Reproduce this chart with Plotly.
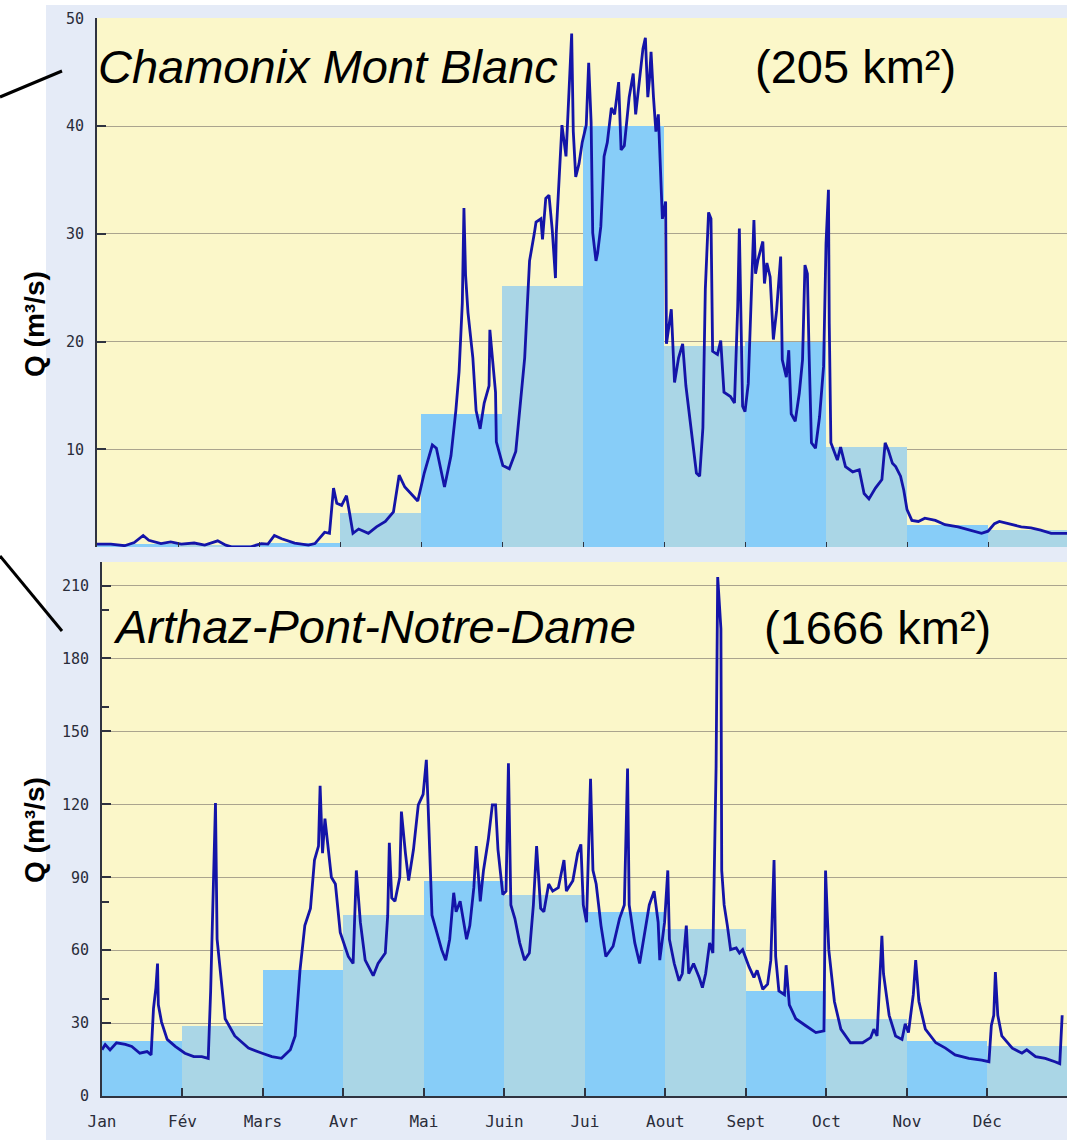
import plotly.graph_objects as go

# ---------------- data ----------------
months = ["Jan", "Fév", "Mars", "Avr", "Mai", "Juin", "Jui", "Aout", "Sept", "Oct", "Nov", "Déc"]

# monthly mean discharge (m3/s)
cham_monthly = [1.2, 1.1, 1.3, 4.1, 13.3, 25.2, 40.0, 19.6, 20.0, 10.2, 3.0, 2.5]
arthaz_monthly = [22.5, 29.0, 51.7, 74.4, 88.6, 82.5, 75.8, 68.7, 43.2, 31.8, 22.6, 20.4]

# daily discharge: (time in months from 1 Jan, Q m3/s)
cham_daily = [
    (0.00, 1.2), (0.17, 1.2), (0.34, 1.05), (0.46, 1.35), (0.57, 2.0), (0.64, 1.55), (0.79, 1.25),
    (0.91, 1.4), (1.04, 1.2), (1.20, 1.3), (1.33, 1.1), (1.49, 1.5), (1.59, 1.1), (1.66, 0.95),
    (1.90, 0.95), (2.03, 1.25), (2.11, 1.2), (2.19, 2.0), (2.28, 1.7), (2.44, 1.3), (2.61, 1.1),
    (2.69, 1.25), (2.81, 2.3), (2.87, 2.2), (2.92, 6.4), (2.96, 5.0), (3.02, 4.8), (3.08, 5.7),
    (3.12, 4.0), (3.16, 2.2), (3.23, 2.6), (3.35, 2.2), (3.45, 2.8), (3.56, 3.3), (3.66, 4.2),
    (3.73, 7.6), (3.80, 6.5), (3.86, 6.0), (3.96, 5.2), (4.04, 7.8), (4.14, 10.4), (4.19, 10.1),
    (4.29, 6.5), (4.37, 9.4), (4.43, 13.6), (4.47, 17.2), (4.51, 23.6), (4.53, 32.4), (4.55, 26.2),
    (4.58, 22.7), (4.64, 18.5), (4.68, 13.6), (4.73, 11.9), (4.78, 14.3), (4.84, 15.9), (4.85, 21.1),
    (4.88, 18.5), (4.92, 15.3), (4.93, 10.7), (5.01, 8.5), (5.09, 8.2), (5.17, 9.8), (5.28, 18.5),
    (5.34, 27.5), (5.40, 30.1), (5.42, 31.1), (5.48, 31.4), (5.50, 29.5), (5.54, 33.3), (5.58, 33.6),
    (5.62, 30.4), (5.66, 25.9), (5.67, 30.1), (5.70, 34.0), (5.74, 40.1), (5.79, 37.2), (5.82, 42.7),
    (5.86, 48.6), (5.88, 39.5), (5.91, 35.3), (5.95, 36.5), (5.99, 38.5), (6.04, 40.1), (6.07, 45.9),
    (6.10, 40.4), (6.12, 30.1), (6.16, 27.5), (6.18, 28.2), (6.22, 30.7), (6.26, 37.2), (6.30, 38.5),
    (6.35, 41.7), (6.39, 41.1), (6.44, 44.1), (6.47, 37.8), (6.51, 38.2), (6.57, 42.7), (6.62, 44.9),
    (6.65, 41.1), (6.71, 44.9), (6.74, 47.2), (6.77, 48.2), (6.80, 42.7), (6.82, 44.3), (6.84, 46.9),
    (6.87, 42.7), (6.90, 39.5), (6.93, 41.1), (6.95, 37.2), (6.98, 31.4), (7.02, 33.0), (7.03, 19.8),
    (7.09, 23.0), (7.13, 16.2), (7.18, 18.5), (7.23, 19.8), (7.27, 15.9), (7.33, 12.0), (7.40, 7.8),
    (7.44, 7.5), (7.48, 12.0), (7.51, 24.9), (7.55, 32.0), (7.58, 31.4), (7.60, 19.1), (7.66, 18.8),
    (7.70, 20.1), (7.74, 15.3), (7.82, 14.9), (7.87, 14.3), (7.89, 18.6), (7.91, 23.3), (7.93, 30.5),
    (7.95, 21.7), (7.97, 14.0), (8.00, 13.5), (8.04, 16.1), (8.08, 24.8), (8.11, 31.3), (8.13, 26.3),
    (8.16, 27.6), (8.22, 29.3), (8.24, 25.4), (8.27, 27.3), (8.31, 26.0), (8.35, 20.2), (8.39, 22.9),
    (8.44, 27.9), (8.46, 18.3), (8.51, 16.7), (8.54, 19.2), (8.57, 13.3), (8.62, 12.6), (8.67, 15.2),
    (8.71, 18.3), (8.74, 27.1), (8.77, 26.3), (8.79, 19.2), (8.82, 10.6), (8.87, 10.1), (8.92, 13.0),
    (8.97, 17.7), (9.00, 29.1), (9.03, 34.1), (9.04, 21.7), (9.06, 10.6), (9.14, 9.0), (9.18, 10.2),
    (9.24, 8.4), (9.33, 7.9), (9.41, 8.1), (9.47, 5.9), (9.53, 5.4), (9.61, 6.4), (9.69, 7.2),
    (9.73, 10.6), (9.77, 9.9), (9.82, 8.7), (9.86, 8.4), (9.92, 7.5), (9.96, 6.2), (10.00, 4.4),
    (10.06, 3.4), (10.14, 3.3), (10.22, 3.6), (10.35, 3.4), (10.47, 3.0), (10.63, 2.8), (10.76, 2.5),
    (10.92, 2.2), (11.00, 2.4), (11.08, 3.1), (11.14, 3.3), (11.29, 3.0), (11.41, 2.8), (11.53, 2.7),
    (11.65, 2.5), (11.78, 2.2), (11.92, 2.2), (11.99, 2.2),
]

arthaz_daily = [
    (0.00, 19.0), (0.04, 21.2), (0.10, 19.0), (0.18, 21.9), (0.29, 21.2), (0.37, 20.4), (0.47, 17.6),
    (0.56, 18.3), (0.61, 16.9), (0.64, 36.1), (0.67, 44.6), (0.69, 54.5), (0.70, 37.5), (0.74, 30.4),
    (0.81, 23.3), (0.91, 20.4), (1.03, 17.6), (1.14, 16.2), (1.24, 16.2), (1.32, 15.5), (1.35, 43.2),
    (1.37, 70.1), (1.39, 95.7), (1.41, 120.5), (1.43, 64.5), (1.47, 50.3), (1.53, 31.8), (1.65, 24.7),
    (1.82, 19.7), (1.99, 17.6), (2.11, 16.2), (2.23, 15.5), (2.34, 19.0), (2.40, 24.7), (2.46, 51.7),
    (2.52, 70.1), (2.59, 77.2), (2.64, 97.1), (2.69, 102.8), (2.71, 127.6), (2.74, 99.9), (2.77, 114.1),
    (2.80, 104.2), (2.85, 90.0), (2.90, 87.2), (2.96, 67.3), (3.06, 57.4), (3.12, 54.5), (3.16, 92.8),
    (3.21, 71.5), (3.27, 55.9), (3.37, 49.5), (3.43, 54.5), (3.52, 58.8), (3.55, 74.4), (3.57, 104.2),
    (3.60, 81.5), (3.64, 80.1), (3.70, 90.0), (3.72, 117.0), (3.77, 99.9), (3.81, 88.6), (3.87, 101.4),
    (3.93, 119.8), (3.99, 124.1), (4.03, 138.3), (4.05, 121.2), (4.10, 74.4), (4.16, 67.3), (4.22, 60.2),
    (4.27, 55.9), (4.32, 64.5), (4.37, 83.6), (4.40, 75.8), (4.45, 80.1), (4.53, 64.5), (4.57, 70.1),
    (4.62, 85.7), (4.65, 102.8), (4.70, 80.1), (4.74, 92.8), (4.80, 105.6), (4.85, 119.8), (4.89, 119.8),
    (4.92, 101.4), (4.98, 82.9), (5.02, 84.3), (5.05, 136.9), (5.08, 78.6), (5.13, 73.0), (5.19, 63.0),
    (5.25, 55.9), (5.31, 58.8), (5.36, 78.6), (5.40, 102.8), (5.45, 77.2), (5.49, 75.8), (5.55, 87.2),
    (5.60, 84.3), (5.67, 85.7), (5.74, 97.1), (5.77, 84.3), (5.85, 88.6), (5.91, 99.9), (5.95, 103.5),
    (5.98, 78.6), (6.02, 71.5), (6.05, 109.9), (6.07, 130.5), (6.10, 92.8), (6.14, 87.2), (6.20, 70.1),
    (6.26, 57.4), (6.35, 61.6), (6.43, 73.0), (6.49, 78.6), (6.51, 105.6), (6.53, 134.7), (6.55, 78.6),
    (6.62, 63.0), (6.68, 54.5), (6.74, 67.3), (6.80, 78.6), (6.86, 84.3), (6.91, 71.5), (6.93, 55.9),
    (6.99, 71.5), (7.03, 92.8), (7.05, 64.5), (7.11, 54.5), (7.17, 47.4), (7.21, 50.3), (7.26, 70.1),
    (7.29, 50.3), (7.35, 54.5), (7.42, 48.8), (7.46, 44.6), (7.50, 50.3), (7.55, 63.0), (7.59, 58.8),
    (7.63, 135.4), (7.65, 213.5), (7.67, 202.2), (7.69, 192.2), (7.70, 92.8), (7.73, 78.6), (7.77, 70.1),
    (7.81, 60.2), (7.88, 60.9), (7.92, 58.8), (7.96, 60.2), (8.04, 53.1), (8.10, 48.8), (8.14, 51.7),
    (8.21, 43.9), (8.27, 46.0), (8.31, 55.9), (8.33, 80.8), (8.35, 97.1), (8.37, 57.4), (8.41, 43.2),
    (8.48, 41.7), (8.50, 53.8), (8.54, 37.5), (8.62, 31.8), (8.74, 29.0), (8.87, 26.1), (8.97, 26.8),
    (8.99, 92.8), (9.01, 75.8), (9.03, 60.2), (9.10, 38.9), (9.18, 27.5), (9.30, 21.9), (9.45, 21.9),
    (9.55, 24.0), (9.59, 27.5), (9.63, 24.7), (9.66, 44.6), (9.69, 65.9), (9.71, 50.3), (9.78, 33.2),
    (9.86, 24.7), (9.94, 23.3), (9.98, 29.7), (10.02, 26.1), (10.08, 41.7), (10.11, 55.9), (10.15, 38.9),
    (10.23, 27.5), (10.36, 21.9), (10.48, 19.7), (10.60, 16.9), (10.77, 15.5), (10.93, 14.8), (11.02, 14.1),
    (11.05, 29.0), (11.08, 33.2), (11.10, 51.0), (11.13, 33.2), (11.18, 24.7), (11.31, 19.7), (11.43, 17.6),
    (11.49, 19.0), (11.60, 16.2), (11.72, 15.5), (11.84, 14.1), (11.90, 13.3), (11.93, 33.2),
]

cham_yticks = [10, 20, 30, 40, 50]
arthaz_yticks = [0, 30, 60, 90, 120, 150, 180, 210]
arthaz_minor_ticks = [40, 80, 120, 160, 200]

# ---------------- style ----------------
W, H = 1067, 1140
BRIGHT = "#87cdf8"
LIGHT = "#aad6e6"
LINE = "#1414a8"
YELLOW = "#fbf7c9"
PANEL = "#e5ebf7"
GRID = "#aaa48e"
AXIS = "#2f3340"
TICKFONT = dict(family="DejaVu Sans Mono, monospace", size=15, color="#2a2d3a")

bar_colors = [BRIGHT if i % 2 == 0 else LIGHT for i in range(12)]
month_centers = [i + 0.5 for i in range(12)]

def px_x(p):
    return p / W

def px_y(p):
    return 1 - p / H

fig = go.Figure()

fig.add_trace(go.Bar(x=month_centers, y=cham_monthly, width=1, marker=dict(color=bar_colors, line=dict(width=0)),
                     xaxis="x", yaxis="y", hoverinfo="skip", showlegend=False))
ct, cq = zip(*cham_daily)
fig.add_trace(go.Scatter(x=ct, y=cq, mode="lines", line=dict(color=LINE, width=2.8),
                         xaxis="x", yaxis="y", showlegend=False))

fig.add_trace(go.Bar(x=month_centers, y=arthaz_monthly, width=1, marker=dict(color=bar_colors, line=dict(width=0)),
                     xaxis="x2", yaxis="y2", hoverinfo="skip", showlegend=False))
at, aq = zip(*arthaz_daily)
fig.add_trace(go.Scatter(x=at, y=aq, mode="lines", line=dict(color=LINE, width=2.8),
                         xaxis="x2", yaxis="y2", showlegend=False))
# invisible trace carrying the extra tick marks of the lower panel
fig.add_trace(go.Scatter(x=[0], y=[0], mode="markers", marker=dict(opacity=0), xaxis="x2", yaxis="y3",
                         hoverinfo="skip", showlegend=False))

top_dom = [px_y(547), px_y(18)]
bot_dom = [px_y(1096), px_y(562)]

fig.update_layout(
    width=W, height=H,
    autosize=False,
    margin=dict(l=0, r=0, t=0, b=0, pad=0, autoexpand=False),
    paper_bgcolor="white",
    plot_bgcolor="rgba(0,0,0,0)",
    barmode="overlay",
    bargap=0,
    xaxis=dict(domain=[px_x(97), 1], range=[0, 11.975], tickvals=list(range(12)), showticklabels=False,
               ticks="inside", ticklen=5, tickcolor=AXIS, showgrid=False, zeroline=False, showline=False,
               anchor="y", automargin=False),
    yaxis=dict(domain=top_dom, range=[0.93, 50.05], tickvals=cham_yticks, ticks="inside", ticklen=9,
               tickcolor=AXIS, tickwidth=1.5, tickfont=TICKFONT, ticklabelstandoff=8,
               showgrid=True, gridcolor=GRID, gridwidth=1, zeroline=False,
               showline=True, linecolor=AXIS, linewidth=2, anchor="x", automargin=False),
    xaxis2=dict(domain=[px_x(102), 1], range=[0, 11.99], tickvals=list(range(12)), ticktext=months,
                ticks="inside", ticklen=8, tickwidth=1.5, tickcolor=AXIS, tickfont=dict(TICKFONT, size=16),
                ticklabelstandoff=10, showgrid=False, zeroline=False, showline=True, linecolor=AXIS,
                linewidth=2, anchor="y2", automargin=False),
    yaxis2=dict(domain=bot_dom, range=[0, 219.7], tickvals=arthaz_yticks, ticks="inside", ticklen=9,
                tickcolor=AXIS, tickwidth=1.5, tickfont=TICKFONT, ticklabelstandoff=8,
                showgrid=True, gridcolor=GRID, gridwidth=1, zeroline=False,
                showline=True, linecolor=AXIS, linewidth=2, anchor="x2", automargin=False),
    yaxis3=dict(domain=bot_dom, range=[0, 219.7], overlaying="y2", tickvals=arthaz_minor_ticks,
                showticklabels=False, ticks="inside", ticklen=7, tickwidth=1.5, tickcolor=AXIS,
                showgrid=False, zeroline=False, showline=False, anchor="x2", automargin=False),
)

shapes = [
    # light blue panel behind the charts
    dict(type="rect", xref="paper", yref="paper", x0=px_x(46), x1=1, y0=0, y1=px_y(5),
         fillcolor=PANEL, line=dict(width=0), layer="below"),
    # plot area backgrounds
    dict(type="rect", xref="x domain", yref="y domain", x0=0, x1=1, y0=0, y1=1,
         fillcolor=YELLOW, line=dict(width=0), layer="below"),
    dict(type="rect", xref="x2 domain", yref="y2 domain", x0=0, x1=1, y0=0, y1=1,
         fillcolor=YELLOW, line=dict(width=0), layer="below"),
    # pointer lines from the left
    dict(type="line", xref="paper", yref="paper", x0=px_x(0), y0=px_y(97), x1=px_x(62), y1=px_y(71),
         line=dict(color="black", width=3), layer="above"),
    dict(type="line", xref="paper", yref="paper", x0=px_x(0), y0=px_y(556), x1=px_x(62), y1=px_y(631),
         line=dict(color="black", width=3), layer="above"),
]
fig.update_layout(shapes=shapes)

BIG = dict(family="Liberation Sans, Arial, sans-serif", size=47, color="black")
anns = [
    dict(text="<i>Chamonix Mont Blanc</i>", x=px_x(96), y=px_y(67), xanchor="left", yanchor="middle"),
    dict(text="(205 km²)", x=px_x(855), y=px_y(67), xanchor="center", yanchor="middle"),
    dict(text="<i>Arthaz-Pont-Notre-Dame</i>", x=px_x(111), y=px_y(626), xanchor="left", yanchor="middle"),
    dict(text="(1666 km²)", x=px_x(877), y=px_y(627), xanchor="center", yanchor="middle"),
]
for a in anns:
    fig.add_annotation(xref="paper", yref="paper", showarrow=False, font=BIG, **a)

QFONT = dict(family="Liberation Sans, Arial, sans-serif", size=28, color="black")
for yc in (324, 830):
    fig.add_annotation(text="<b>Q (m³/s)</b>", xref="paper", yref="paper", x=px_x(34), y=px_y(yc),
                       xanchor="center", yanchor="middle", textangle=-90, showarrow=False, font=QFONT)

fig.write_html("out.html", config={"displayModeBar": False},
               post_script="document.body.style.margin='0';document.body.style.overflow='hidden';")
